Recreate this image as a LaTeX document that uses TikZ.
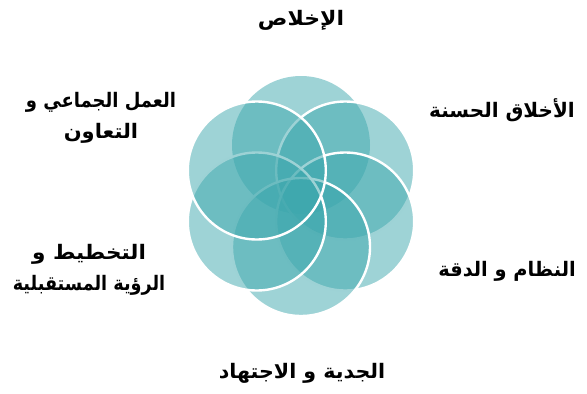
\documentclass[tikz,border=0pt]{standalone}
\usepackage{fontspec}
\usepackage{graphicx}
\newfontfamily\arabicfont[Script=Arabic]{DejaVu Sans}
\TeXXeTstate=1
\definecolor{petal}{RGB}{61,167,173}
\begin{document}
\begin{tikzpicture}[x=1pt,y=-1pt,
  petalfill/.style={fill=petal,fill opacity=0.5},
  petalline/.style={petalfill,draw=white,line width=2.4pt},
  lbl/.style={font=\arabicfont\bfseries\fontsize{20}{31}\selectfont,align=center,inner sep=0pt,text=black}]
\useasboundingbox (0,0) rectangle (587,394);
% petals, drawn in order: top, upper right, lower right, bottom, lower left, upper left
\fill[petalfill] (301,145) circle[radius=69];
\path[petalline] (345.2,170.5) circle[radius=69];
\path[petalline] (345.2,221.5) circle[radius=69];
\path[petalline] (301,247) circle[radius=69];
\path[petalline] (256.8,221.5) circle[radius=69];
\path[petalline] (256.8,170.5) circle[radius=69];
% labels
\node[lbl] (top) at (301,20) {\scalebox{1.1}[1]{\beginR الإخلاص\endR}};
\node[lbl] (ur) at (502,110) {\beginR الأخلاق الحسنة\endR};
\node[lbl] (lr) at (507,271) {\scalebox{0.97}[1]{\beginR النظام و الدقة\endR}};
\node[lbl] (bot) at (302,373) {\scalebox{1.03}[1]{\beginR الجدية و الاجتهاد\endR}};
\node[lbl] (ll) at (89,270) {\scalebox{1.08}[1]{\beginR التخطيط و\endR}\\\scalebox{0.88}[1]{\beginR الرؤية المستقبلية\endR}};
\node[lbl] (ul) at (101,118) {\scalebox{0.9}[1]{\beginR العمل الجماعي و\endR}\\\scalebox{1.05}[1]{\beginR التعاون\endR}};
\end{tikzpicture}
\end{document}
